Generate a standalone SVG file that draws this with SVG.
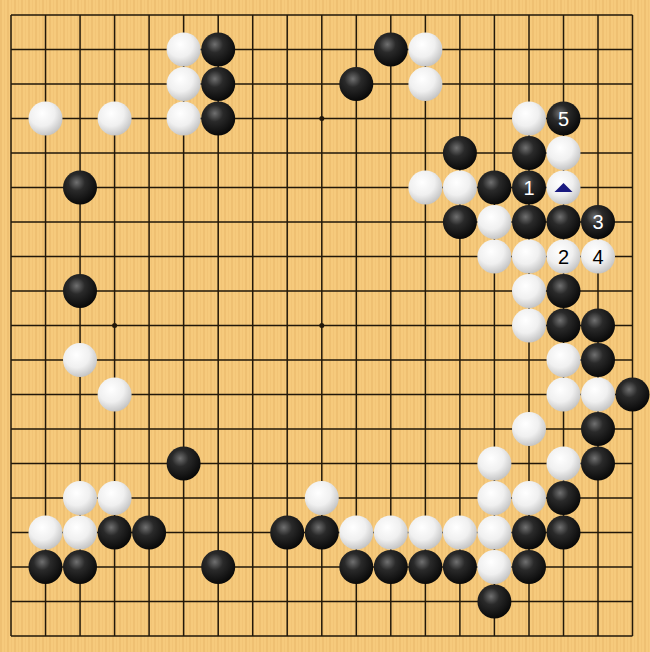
<svg xmlns="http://www.w3.org/2000/svg" width="650" height="652" viewBox="0 0 650 652">
<defs>
<pattern id="grain" width="7" height="652" patternUnits="userSpaceOnUse">
<rect width="7" height="652" fill="#F6CA7C"/>
<rect x="0" width="2" height="652" fill="#EFC072"/>
<rect x="4" width="1" height="652" fill="#F2C476"/>
</pattern>
<radialGradient id="bg" cx="0.4" cy="0.35" r="0.7">
<stop offset="0" stop-color="#707070"/>
<stop offset="0.35" stop-color="#2a2a2a"/>
<stop offset="1" stop-color="#050505"/>
</radialGradient>
<radialGradient id="wg" cx="0.4" cy="0.35" r="0.75">
<stop offset="0" stop-color="#ffffff"/>
<stop offset="0.5" stop-color="#f0f0f0"/>
<stop offset="1" stop-color="#b8b8b8"/>
</radialGradient>
<style>
.g{stroke:#22180a;stroke-width:1.5;fill:none}
.b{fill:url(#bg)}
.w{fill:url(#wg)}
.n{font-family:"Liberation Sans",Arial,sans-serif;font-size:20px;text-anchor:middle}
.nb{fill:#ffffff}
.nw{fill:#000000}
</style>
</defs>
<rect width="650" height="652" fill="url(#grain)"/>
<g id="grid">
<path class="g" d="M11,15V636M45.53,15V636M80.06,15V636M114.6,15V636M149.1,15V636M183.65,15V636M218.2,15V636M252.7,15V636M287.2,15V636M321.8,15V636M356.3,15V636M390.8,15V636M425.4,15V636M459.9,15V636M494.4,15V636M529,15V636M563.5,15V636M598,15V636M632.5,15V636"/>
<path class="g" d="M11,15H632.5M11,49.5H632.5M11,84H632.5M11,118.5H632.5M11,153H632.5M11,187.5H632.5M11,222H632.5M11,256.5H632.5M11,291H632.5M11,325.5H632.5M11,360H632.5M11,394.5H632.5M11,429H632.5M11,463.5H632.5M11,498H632.5M11,532.5H632.5M11,567H632.5M11,601.5H632.5M11,636H632.5"/>
<g fill="#22180a">
<circle cx="114.6" cy="118.5" r="2.5"/><circle cx="321.8" cy="118.5" r="2.5"/><circle cx="529" cy="118.5" r="2.5"/>
<circle cx="114.6" cy="325.5" r="2.5"/><circle cx="321.8" cy="325.5" r="2.5"/><circle cx="529" cy="325.5" r="2.5"/>
<circle cx="114.6" cy="532.5" r="2.5"/><circle cx="321.8" cy="532.5" r="2.5"/><circle cx="529" cy="532.5" r="2.5"/>
</g>
</g>
<g id="white-stones">
<circle class="w" cx="183.6" cy="49.5" r="17"/>
<circle class="w" cx="425.4" cy="49.5" r="17"/>
<circle class="w" cx="183.6" cy="84" r="17"/>
<circle class="w" cx="425.4" cy="84" r="17"/>
<circle class="w" cx="45.5" cy="118.5" r="17"/>
<circle class="w" cx="114.6" cy="118.5" r="17"/>
<circle class="w" cx="183.6" cy="118.5" r="17"/>
<circle class="w" cx="529" cy="118.5" r="17"/>
<circle class="w" cx="563.5" cy="153" r="17"/>
<circle class="w" cx="425.4" cy="187.5" r="17"/>
<circle class="w" cx="459.9" cy="187.5" r="17"/>
<circle class="w" cx="563.5" cy="187.5" r="17"/>
<circle class="w" cx="494.4" cy="222" r="17"/>
<circle class="w" cx="494.4" cy="256.5" r="17"/>
<circle class="w" cx="529" cy="256.5" r="17"/>
<circle class="w" cx="563.5" cy="256.5" r="17"/>
<circle class="w" cx="598" cy="256.5" r="17"/>
<circle class="w" cx="529" cy="291" r="17"/>
<circle class="w" cx="529" cy="325.5" r="17"/>
<circle class="w" cx="80" cy="360" r="17"/>
<circle class="w" cx="563.5" cy="360" r="17"/>
<circle class="w" cx="114.6" cy="394.5" r="17"/>
<circle class="w" cx="563.5" cy="394.5" r="17"/>
<circle class="w" cx="598" cy="394.5" r="17"/>
<circle class="w" cx="529" cy="429" r="17"/>
<circle class="w" cx="494.4" cy="463.5" r="17"/>
<circle class="w" cx="563.5" cy="463.5" r="17"/>
<circle class="w" cx="80" cy="498" r="17"/>
<circle class="w" cx="114.6" cy="498" r="17"/>
<circle class="w" cx="321.8" cy="498" r="17"/>
<circle class="w" cx="494.4" cy="498" r="17"/>
<circle class="w" cx="529" cy="498" r="17"/>
<circle class="w" cx="45.5" cy="532.5" r="17"/>
<circle class="w" cx="80" cy="532.5" r="17"/>
<circle class="w" cx="356.3" cy="532.5" r="17"/>
<circle class="w" cx="390.8" cy="532.5" r="17"/>
<circle class="w" cx="425.4" cy="532.5" r="17"/>
<circle class="w" cx="459.9" cy="532.5" r="17"/>
<circle class="w" cx="494.4" cy="532.5" r="17"/>
<circle class="w" cx="494.4" cy="567" r="17"/>
</g>
<g id="black-stones">
<circle class="b" cx="218.2" cy="49.5" r="17"/>
<circle class="b" cx="390.8" cy="49.5" r="17"/>
<circle class="b" cx="218.2" cy="84" r="17"/>
<circle class="b" cx="356.3" cy="84" r="17"/>
<circle class="b" cx="218.2" cy="118.5" r="17"/>
<circle class="b" cx="563.5" cy="118.5" r="17"/>
<circle class="b" cx="459.9" cy="153" r="17"/>
<circle class="b" cx="529" cy="153" r="17"/>
<circle class="b" cx="80" cy="187.5" r="17"/>
<circle class="b" cx="494.4" cy="187.5" r="17"/>
<circle class="b" cx="529" cy="187.5" r="17"/>
<circle class="b" cx="459.9" cy="222" r="17"/>
<circle class="b" cx="529" cy="222" r="17"/>
<circle class="b" cx="563.5" cy="222" r="17"/>
<circle class="b" cx="598" cy="222" r="17"/>
<circle class="b" cx="80" cy="291" r="17"/>
<circle class="b" cx="563.5" cy="291" r="17"/>
<circle class="b" cx="563.5" cy="325.5" r="17"/>
<circle class="b" cx="598" cy="325.5" r="17"/>
<circle class="b" cx="598" cy="360" r="17"/>
<circle class="b" cx="632.5" cy="394.5" r="17"/>
<circle class="b" cx="598" cy="429" r="17"/>
<circle class="b" cx="183.6" cy="463.5" r="17"/>
<circle class="b" cx="598" cy="463.5" r="17"/>
<circle class="b" cx="563.5" cy="498" r="17"/>
<circle class="b" cx="114.6" cy="532.5" r="17"/>
<circle class="b" cx="149.1" cy="532.5" r="17"/>
<circle class="b" cx="287.2" cy="532.5" r="17"/>
<circle class="b" cx="321.8" cy="532.5" r="17"/>
<circle class="b" cx="529" cy="532.5" r="17"/>
<circle class="b" cx="563.5" cy="532.5" r="17"/>
<circle class="b" cx="45.5" cy="567" r="17"/>
<circle class="b" cx="80" cy="567" r="17"/>
<circle class="b" cx="218.2" cy="567" r="17"/>
<circle class="b" cx="356.3" cy="567" r="17"/>
<circle class="b" cx="390.8" cy="567" r="17"/>
<circle class="b" cx="425.4" cy="567" r="17"/>
<circle class="b" cx="459.9" cy="567" r="17"/>
<circle class="b" cx="529" cy="567" r="17"/>
<circle class="b" cx="494.4" cy="601.5" r="17"/>
</g>
<g id="marks">
<text class="n nb" x="529" y="194.5">1</text>
<text class="n nw" x="563.5" y="263.5">2</text>
<text class="n nb" x="598" y="229">3</text>
<text class="n nw" x="598" y="263.5">4</text>
<text class="n nb" x="563.5" y="125.5">5</text>
<polygon points="554.5,192 572.5,192 563.5,183" fill="#1a1a80"/>
</g>
</svg>
